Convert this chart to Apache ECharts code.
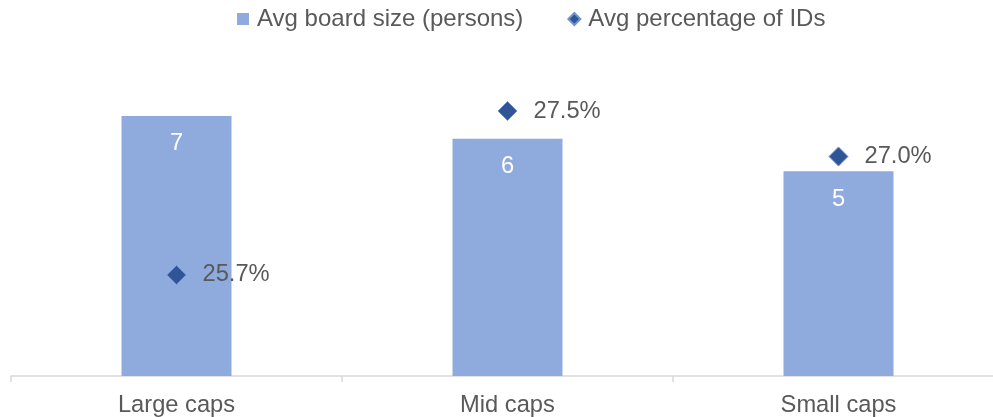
<!DOCTYPE html>
<html>
<head>
<meta charset="utf-8">
<script src="https://cdn.jsdelivr.net/npm/echarts@6/dist/echarts.min.js"></script>
<style>
html,body{margin:0;padding:0;background:#fff;overflow:hidden;width:993px;height:417px;}
#chart{width:1004px;height:417px;}
</style>
</head>
<body>
<div id="chart"></div>
<script>
const categories = ['Large caps', 'Mid caps', 'Small caps'];
const boardSize = [6.8, 6.2, 5.35];
const boardSizeLabels = ['7', '6', '5'];
const pctIDs = [0.257, 0.275, 0.270];
const seriesNames = ['Avg board size (persons)', 'Avg percentage of IDs'];

const FONT = '"Liberation Sans", Arial, sans-serif';
const chart = echarts.init(document.getElementById('chart'), null, {renderer: 'canvas'});
chart.setOption({
  animation: false,
  backgroundColor: '#ffffff',
  textStyle: {fontFamily: FONT},
  legend: {
    left: 237,
    top: 7,
    padding: 0,
    itemGap: 44,
    itemWidth: 12,
    itemHeight: 12,
    textStyle: {color: '#595959', fontSize: 24, fontFamily: FONT, padding: [0, 0, 0, 3]},
    data: [
      {name: seriesNames[0], icon: 'rect'},
      {name: seriesNames[1], icon: 'diamond'}
    ]
  },
  grid: {left: 11, top: 70, right: 0, bottom: 41, containLabel: false},
  xAxis: {
    type: 'category',
    data: categories,
    boundaryGap: true,
    axisLine: {show: true, lineStyle: {color: '#D9D9D9', width: 1.5}},
    axisTick: {show: true, alignWithLabel: false, length: 6, lineStyle: {color: '#D9D9D9', width: 1.5}},
    axisLabel: {color: '#595959', fontSize: 23.7, fontFamily: FONT, margin: 17}
  },
  yAxis: [
    {type: 'value', min: 0, max: 8, show: false, splitLine: {show: false}},
    {type: 'value', min: 0.2459, max: 0.2795, show: false, splitLine: {show: false}}
  ],
  series: [
    {
      name: seriesNames[0],
      type: 'bar',
      yAxisIndex: 0,
      data: boardSize,
      barWidth: 110,
      itemStyle: {color: '#8FAADC'},
      label: {
        show: true,
        position: 'insideTop',
        distance: 16,
        color: '#ffffff',
        fontSize: 23.7,
        fontFamily: FONT,
        formatter: p => boardSizeLabels[p.dataIndex]
      }
    },
    {
      name: seriesNames[1],
      type: 'scatter',
      yAxisIndex: 1,
      data: pctIDs,
      symbol: 'diamond',
      symbolSize: 19,
      itemStyle: {color: '#2F5597', borderColor: '#7391CF', borderWidth: 1, opacity: 1},
      label: {
        show: true,
        position: 'right',
        distance: 16,
        color: '#595959',
        fontSize: 23.7,
        fontFamily: FONT,
        formatter: p => (p.value * 100).toFixed(1) + '%'
      },
      z: 5
    }
  ]
});
</script>
</body>
</html>
